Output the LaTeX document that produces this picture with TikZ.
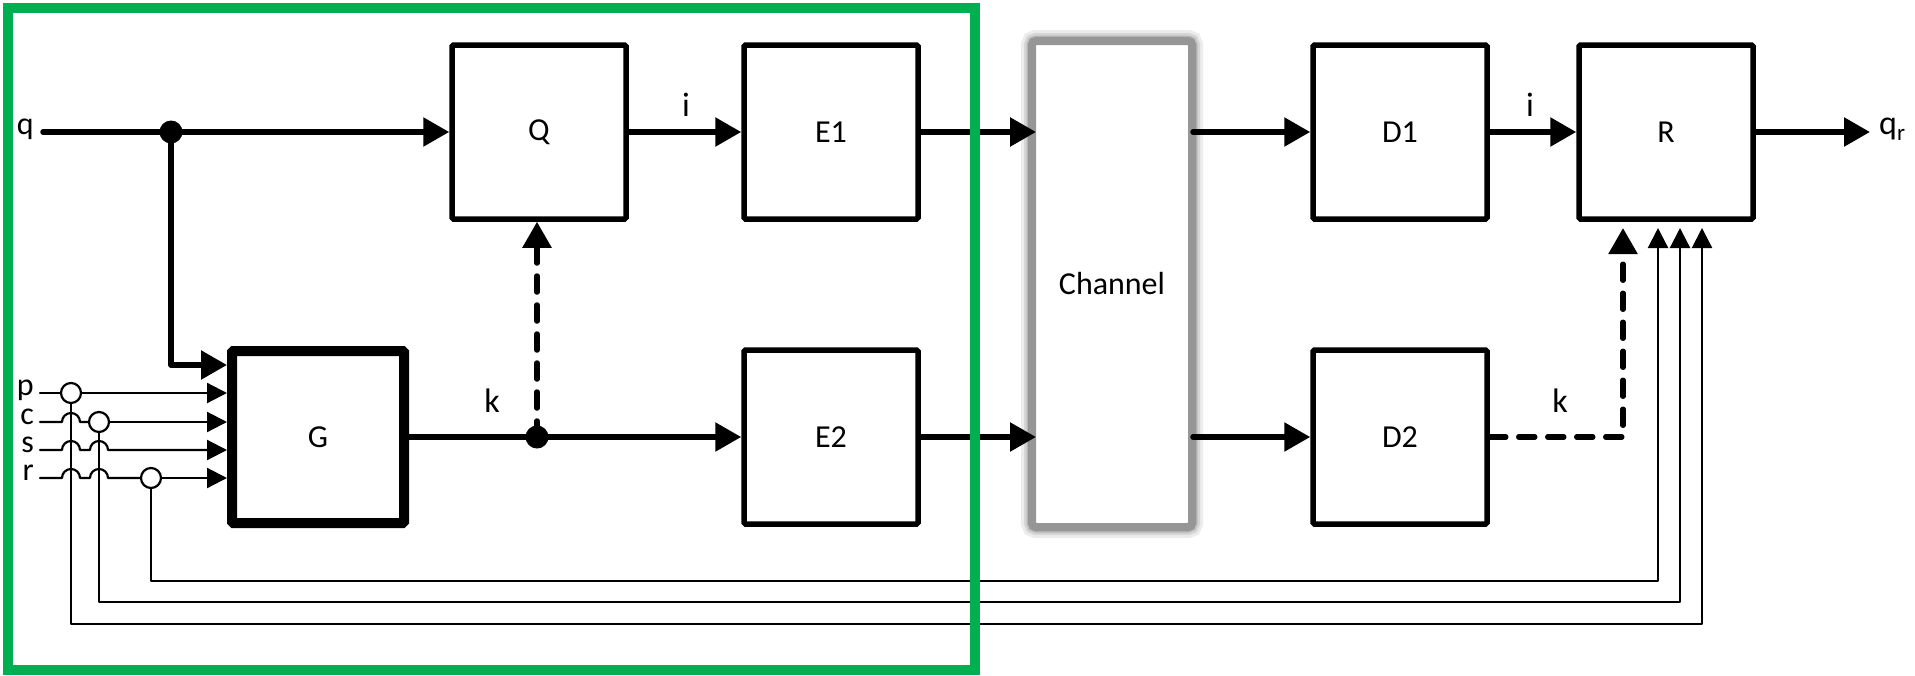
\documentclass[tikz,border=0pt]{standalone}
\usepackage{fontspec}
\setmainfont{Carlito}
\usetikzlibrary{arrows.meta}
\definecolor{frame}{HTML}{00B050}
\definecolor{shadowgray}{RGB}{150,150,150}
\begin{document}
\begin{tikzpicture}[x=1pt,y=-1pt,
  blk/.style={draw, line width=5.5pt, rounded corners=1.5pt, minimum width=174pt, minimum height=174pt, inner sep=0pt, fill=white, font=\fontsize{32}{38}\selectfont},
  wire/.style={line width=5.5pt, line cap=round, line join=round},
  thinwire/.style={line width=2.2pt, line cap=round, line join=round},
  bigtip/.style={-{Triangle[length=26pt,width=28pt]}},
  smalltip/.style={-{Triangle[length=20pt,width=20pt]}},
  kdash/.style={dash pattern=on 16pt off 13pt},
  dot/.style={circle, fill=black, minimum size=23pt, inner sep=0pt},
  tap/.style={circle, draw, fill=white, line width=2.2pt, minimum size=20pt, inner sep=0pt},
  sidelbl/.style={anchor=mid east, inner sep=0pt, font=\fontsize{32}{36}\selectfont},
  lbl/.style={anchor=base, inner sep=0pt, font=\fontsize{34}{40}\selectfont}
]
\useasboundingbox (0,0) rectangle (1915,675);

% boxes
\node[blk] (Q) at (539,132) {Q};
\node[blk] (E1) at (831,132) {E1};
\node[blk] (D1) at (1400,132) {D1};
\node[blk] (R) at (1666,132) {R};
\node[blk, line width=10pt, minimum width=172pt, minimum height=172pt] (G) at (318,437) {G};
\node[blk] (E2) at (831,437) {E2};
\node[blk] (D2) at (1400,437) {D2};
\node[fill=white, draw=shadowgray, line width=8pt, rounded corners=4pt,
      preaction={draw=shadowgray!18, line width=22pt},
      preaction={draw=shadowgray!40, line width=16pt},
      preaction={draw=shadowgray!70, line width=11pt},
      minimum width=160pt, minimum height=486pt, inner sep=0pt, outer sep=-4pt,
      font=\fontsize{32}{38}\selectfont] (CH) at (1112,284) {Channel};

% labels
\node[sidelbl] (lq) at (34,132) {q};
\node[sidelbl] (lp) at (34,393) {p};
\node[sidelbl] (lc) at (34,422) {c};
\node[sidelbl] (ls) at (34,450) {s};
\node[sidelbl] (lr) at (34,478) {r};
\node[lbl] (li1) at (686,116) {i};
\node[lbl] (li2) at (1530,116) {i};
\node[lbl] (lk1) at (492,412) {k};
\node[lbl] (lk2) at (1560,412) {k};
\node[anchor=mid west, inner sep=0pt, font=\fontsize{34}{40}\selectfont] (lqr) at (1879,132) {q\raisebox{-6pt}{\fontsize{23}{23}\selectfont r}};

% coordinates
\coordinate (qs) at (43,132);
\coordinate (qg) at (171,365);
\coordinate (sp) at (40,393);
\coordinate (sc) at (40,422);
\coordinate (ss) at (40,450);
\coordinate (sr) at (40,478);
\coordinate (c1o) at (1193,132);
\coordinate (c2o) at (1193,437);
\coordinate (qrt) at (1870,132);
\coordinate (kc) at (1623,437);
\coordinate (kt) at (1623,228);
\coordinate (pb) at (71,624);
\coordinate (pbr) at (1702,624);
\coordinate (pt) at (1702,228);
\coordinate (cb) at (99,602);
\coordinate (cbr) at (1680,602);
\coordinate (ct) at (1680,228);
\coordinate (rb) at (151,581);
\coordinate (rbr) at (1658,581);
\coordinate (rt) at (1658,228);

% junctions
\node[dot] (j1) at (171,132) {};
\node[dot] (j2) at (537,437) {};

% top row
\draw[wire] (qs) -- (j1.center);
\draw[wire, bigtip] (j1.center) -- (Q.west);
\draw[wire, bigtip] (j1.center) -- (qg) -- (qg -| G.west);
\draw[wire, bigtip] (Q.east) -- (E1.west);
\draw[wire, bigtip] (E1.east) -- (E1.east -| CH.west);
\draw[wire, bigtip] (c1o) -- (D1.west);
\draw[wire, bigtip] (D1.east) -- (R.west);
\draw[wire, bigtip] (R.east) -- (qrt);

% bottom row
\draw[wire] (G.east |- j2) -- (j2.center);
\draw[wire, bigtip] (j2.center) -- (E2.west);
\draw[wire, kdash, bigtip] (j2.center) -- (j2 |- Q.south);
\draw[wire, bigtip] (E2.east) -- (E2.east -| CH.west);
\draw[wire, bigtip] (c2o) -- (D2.west);
\draw[wire, kdash, bigtip] (D2.east) -- (kc) -- (kt);

% side inputs
\node[tap] (tp) at (71,393) {};
\node[tap] (tc) at (99,422) {};
\node[tap] (tr) at (151,478) {};
\draw[thinwire] (sp) -- (tp);
\draw[thinwire, smalltip] (tp) -- (tp -| G.west);
\draw[thinwire] (sc) -- (62,422) arc[start angle=180, end angle=360, radius=9] -- (tc);
\draw[thinwire, smalltip] (tc) -- (tc -| G.west);
\draw[thinwire, smalltip] (ss) -- (62,450) arc[start angle=180, end angle=360, radius=9] -- (90,450) arc[start angle=180, end angle=360, radius=9] -- (ss -| G.west);
\draw[thinwire] (sr) -- (62,478) arc[start angle=180, end angle=360, radius=9] -- (90,478) arc[start angle=180, end angle=360, radius=9] -- (tr);
\draw[thinwire, smalltip] (tr) -- (tr -| G.west);

% feedback to R
\draw[thinwire, smalltip] (tp) -- (pb) -- (pbr) -- (pt);
\draw[thinwire, smalltip] (tc) -- (cb) -- (cbr) -- (ct);
\draw[thinwire, smalltip] (tr) -- (rb) -- (rbr) -- (rt);

% green frame
\draw[frame, line width=9.5pt] (8,8) rectangle (975,670);
\end{tikzpicture}
\end{document}
